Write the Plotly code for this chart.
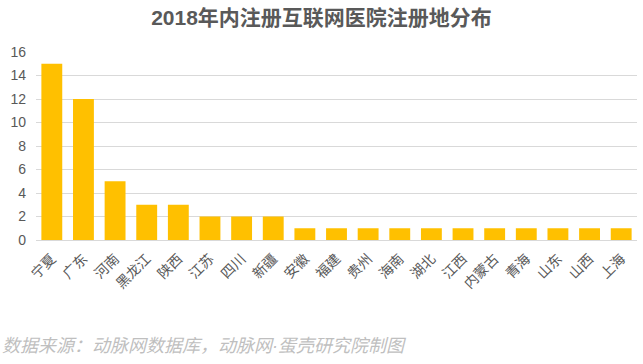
import plotly.graph_objects as go

provinces = ["宁夏", "广东", "河南", "黑龙江", "陕西", "江苏", "四川", "新疆", "安徽", "福建",
             "贵州", "海南", "湖北", "江西", "内蒙古", "青海", "山东", "山西", "上海"]
counts = [15, 12, 5, 3, 3, 2, 2, 2, 1, 1, 1, 1, 1, 1, 1, 1, 1, 1, 1]
y_ticks = [0, 2, 4, 6, 8, 10, 12, 14, 16]

font_family = "Liberation Sans, Noto Sans CJK SC, sans-serif"

fig = go.Figure(go.Bar(x=provinces, y=counts, marker_color="#FFC000",
                       marker_line_width=0))

fig.update_layout(
    width=643, height=364,
    margin=dict(l=36, r=6, t=52, b=124),
    paper_bgcolor="white", plot_bgcolor="white",
    bargap=0.34,
    showlegend=False,
    font=dict(family=font_family, color="#595959", size=14),
    title=dict(text="<b>2018年内注册互联网医院注册地分布</b>", x=0.5, xanchor="center",
               y=1 - 18 / 364, yanchor="middle",
               font=dict(size=21, color="#595959", family=font_family)),
    xaxis=dict(tickangle=-45, showgrid=False, showline=True, linecolor="#D9D9D9",
               linewidth=1, ticks="", automargin=False, ticklabelstandoff=4,
               tickfont=dict(size=14, color="#595959")),
    yaxis=dict(range=[0, 16], tickvals=y_ticks, showgrid=True, gridcolor="#D9D9D9",
               gridwidth=1, zeroline=False, showline=False, ticks="", automargin=False,
               ticklabelstandoff=9,
               tickfont=dict(size=14, color="#595959")),
    annotations=[dict(text="<i>数据来源：动脉网数据库，动脉网·蛋壳研究院制图</i>",
                      xref="paper", yref="paper", x=(0 - 36) / 601, y=(240 - 346) / 188,
                      xanchor="left", yanchor="middle", showarrow=False,
                      font=dict(size=18, color="#BFBFBF", family=font_family))],
)

fig.write_html("out.html", config={"displayModeBar": False},
               post_script="document.body.style.margin='0';document.body.style.overflow='hidden';")
